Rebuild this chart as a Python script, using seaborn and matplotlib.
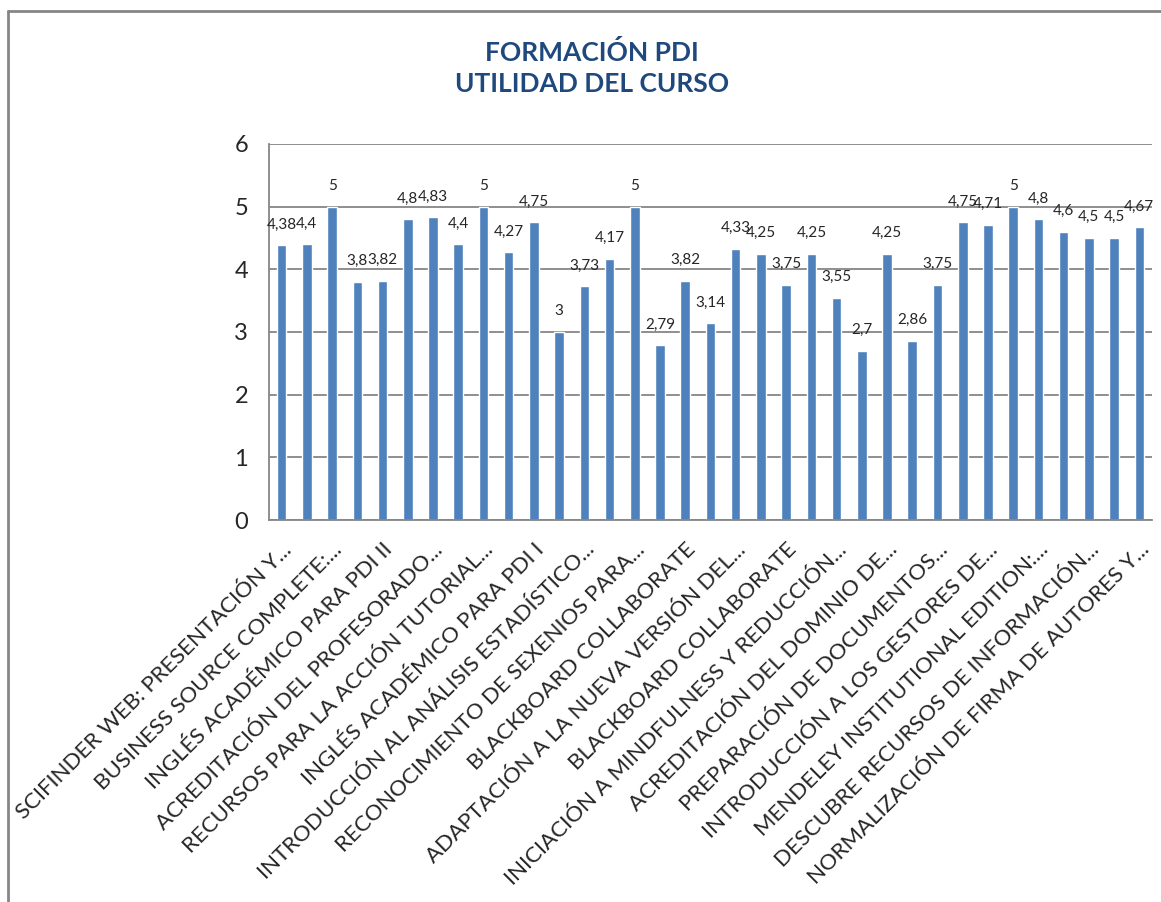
import numpy as np
import pandas as pd
import seaborn as sns
import matplotlib.pyplot as plt
from matplotlib.lines import Line2D
from matplotlib.ticker import FixedLocator, MultipleLocator
from matplotlib.transforms import ScaledTranslation

# course usefulness scores, one per course (35 bars)
values = [4.38, 4.4, 5, 3.8, 3.82, 4.8, 4.83, 4.4, 5, 4.27, 4.75, 3, 3.73, 4.17, 5,
          2.79, 3.82, 3.14, 4.33, 4.25, 3.75, 4.25, 3.55, 2.7, 4.25, 2.86, 3.75,
          4.75, 4.71, 5, 4.8, 4.6, 4.5, 4.5, 4.67]

# only every other course name is shown on the axis
tick_labels = [
    "SCIFINDER WEB: PRESENTACIÓN Y...",
    "BUSINESS SOURCE COMPLETE:...",
    "INGLÉS ACADÉMICO PARA PDI II",
    "ACREDITACIÓN DEL PROFESORADO...",
    "RECURSOS PARA LA ACCIÓN TUTORIAL...",
    "INGLÉS ACADÉMICO PARA PDI I",
    "INTRODUCCIÓN AL ANÁLISIS ESTADÍSTICO...",
    "RECONOCIMIENTO DE SEXENIOS PARA...",
    "BLACKBOARD COLLABORATE",
    "ADAPTACIÓN A LA NUEVA VERSIÓN DEL...",
    "BLACKBOARD COLLABORATE",
    "INICIACIÓN A MINDFULNESS Y REDUCCIÓN...",
    "ACREDITACIÓN DEL DOMINIO DE...",
    "PREPARACIÓN DE DOCUMENTOS...",
    "INTRODUCCIÓN A LOS GESTORES DE...",
    "MENDELEY INSTITUTIONAL EDITION:...",
    "DESCUBRE RECURSOS DE INFORMACIÓN...",
    "NORMALIZACIÓN DE FIRMA DE AUTORES Y...",
]

title = "FORMACIÓN PDI\nUTILIDAD DEL CURSO"

sns.set_style("white")
plt.rcParams['font.family'] = ['Lato', 'DejaVu Sans']

df = pd.DataFrame({"curso": np.arange(len(values)), "valor": values})

fig = plt.figure(figsize=(11.61, 9.02), dpi=100)
ax = fig.add_axes([0.2317, 0.4235, 0.9922 - 0.2317, 0.8404 - 0.4235])

sns.barplot(data=df, x="curso", y="valor", color="#4F81BD", saturation=1,
            width=0.38, ax=ax, order=list(range(len(values))))

ax.set_xlim(-0.5, len(values) - 0.5)
ax.set_ylim(0, 6)
ax.yaxis.set_major_locator(MultipleLocator(1))
ax.grid(axis="y", color="#868686", linewidth=1.3)
ax.set_axisbelow(True)

for s in ["top", "right"]:
    ax.spines[s].set_visible(False)
for s in ["left", "bottom"]:
    ax.spines[s].set_color("#868686")
    ax.spines[s].set_linewidth(1.3)

# labels on every other bar, tick marks at category boundaries
ax.set_xticks(list(range(0, len(values), 2)))
ax.set_xticklabels(tick_labels, rotation=45, ha="right", rotation_mode="anchor",
                   fontsize=16)
shift = ScaledTranslation(0.10, 0, fig.dpi_scale_trans)
for lab in ax.get_xticklabels():
    lab.set_transform(lab.get_transform() + shift)
ax.xaxis.set_minor_locator(FixedLocator(np.arange(-0.5, len(values), 1)))
ax.tick_params(axis="x", which="major", length=0, pad=14)
ax.tick_params(axis="x", which="minor", length=7, color="#868686", width=1.3,
               direction="out")
ax.tick_params(axis="y", length=7, color="#868686", width=1.3, direction="out",
               labelsize=17, pad=8)
ax.set_xlabel("")
ax.set_ylabel("")

for i, v in enumerate(values):
    ax.annotate(f"{v:g}".replace(".", ","), (i, v), xytext=(0, 12),
                textcoords="offset points", ha="center", va="baseline",
                fontsize=11)

fig.text(0.51, 0.9246, title, ha="center", va="center", fontsize=19,
         fontweight="bold", color="#1F497D", linespacing=1.35)

# outer chart border
fig.add_artist(Line2D([0.0069, 0.0069], [0, 0.9878], color="#868686", lw=2,
                      transform=fig.transFigure))
fig.add_artist(Line2D([0.0069, 1], [0.9878, 0.9878], color="#868686", lw=2,
                      transform=fig.transFigure))

fig.savefig("out.png", dpi=100, facecolor="white")
